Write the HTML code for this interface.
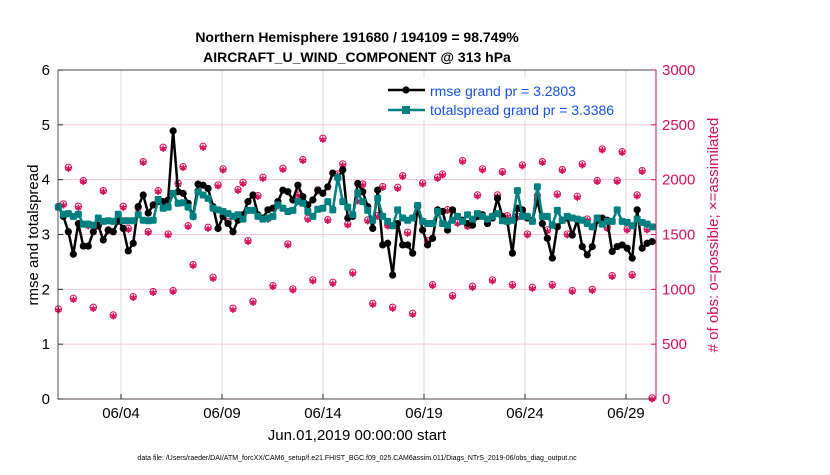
<!DOCTYPE html>
<html><head><meta charset="utf-8"><style>
body{margin:0;background:#fff;font-family:"Liberation Sans",sans-serif;}
svg text{font-family:"Liberation Sans",sans-serif;}
</style></head><body>
<svg id="chart" width="830" height="470" xmlns="http://www.w3.org/2000/svg">
<rect width="830" height="470" fill="#fff"/>
<text x="357" y="42" font-size="14" font-weight="bold" text-anchor="middle">Northern Hemisphere 191680 / 194109 = 98.749%</text>
<text x="357" y="62" font-size="14" font-weight="bold" text-anchor="middle">AIRCRAFT_U_WIND_COMPONENT @ 313 hPa</text>
<g id="grid"></g>
<g id="marks"></g>
<rect x="58" y="70" width="598" height="329" fill="none" stroke="#262626" stroke-width="0.8"/>
<line x1="656" y1="70" x2="656" y2="399" stroke="#d6105a" stroke-width="1"/>
<g id="axes"></g>
<text transform="translate(38,235) rotate(-90)" font-size="15" text-anchor="middle">rmse and totalspread</text>
<text transform="translate(718,235) rotate(-90)" font-size="15" text-anchor="middle" fill="#d6105a"># of obs: o=possible; ×=assimilated</text>
<text x="357" y="440" font-size="15" text-anchor="middle">Jun.01,2019 00:00:00 start</text>
<text x="357" y="460" font-size="7" text-anchor="middle">data file: /Users/raeder/DAI/ATM_forcXX/CAM6_setup/f.e21.FHIST_BGC.f09_025.CAM6assim.011/Diags_NTrS_2019-06/obs_diag_output.nc</text>
<g>
<rect x="384" y="78" width="150" height="42" fill="#fff" stroke="none"/>
<line x1="388" y1="90" x2="425" y2="90" stroke="#000" stroke-width="2.5"/>
<circle cx="406" cy="90" r="3.6" fill="#000"/>
<text x="430" y="96" font-size="14" fill="#1450e6">rmse grand pr = 3.2803</text>
<line x1="388" y1="110" x2="425" y2="110" stroke="#008080" stroke-width="2.5"/>
<rect x="402" y="106" width="8" height="8" fill="#008080"/>
<text x="430" y="115" font-size="14" fill="#1450e6">totalspread grand pr = 3.3386</text>
</g>
</svg>
<script>
const rmse=[3.51,3.33,3.05,2.64,3.20,2.79,2.79,3.05,3.17,2.90,3.08,3.05,3.26,3.11,2.70,2.84,3.51,3.72,3.39,3.54,3.60,3.60,3.63,4.89,3.78,3.75,3.57,3.33,3.92,3.90,3.84,3.51,3.11,3.33,3.20,3.05,3.26,3.36,3.60,3.72,3.36,3.30,
3.45,3.48,3.60,3.81,3.78,3.63,3.90,3.69,3.54,3.63,3.81,3.75,3.87,4.12,4.03,4.18,3.30,3.33,3.93,3.78,3.51,3.11,3.81,2.81,2.84,2.26,3.20,2.81,2.81,2.66,3.51,3.08,2.81,2.93,3.45,3.42,3.08,3.45,3.33,3.26,
3.20,3.17,3.33,3.36,3.20,3.30,3.66,3.33,3.23,2.66,3.48,3.45,3.30,3.26,3.63,3.20,2.93,2.57,3.14,3.26,3.30,2.99,3.26,2.78,2.63,2.78,3.26,3.30,3.26,2.69,2.78,2.81,2.75,2.57,3.45,2.75,2.84,2.87];
const spread=[3.50,3.37,3.38,3.33,3.37,3.19,3.19,3.17,3.30,3.24,3.25,3.24,3.37,3.25,3.25,3.25,3.36,3.26,3.25,3.26,3.64,3.48,3.50,3.75,3.57,3.58,3.50,3.33,3.78,3.72,3.66,3.48,3.45,3.42,3.38,3.33,3.36,3.28,3.44,3.44,3.33,3.28,
3.30,3.33,3.54,3.48,3.42,3.44,3.60,3.57,3.42,3.33,3.46,3.48,3.60,3.45,4.04,3.60,3.50,3.36,3.76,3.60,3.44,3.26,3.66,3.33,3.24,3.16,3.45,3.30,3.26,3.30,3.53,3.24,3.20,3.20,3.42,3.20,3.17,3.26,3.33,3.24,
3.36,3.28,3.38,3.33,3.28,3.33,3.38,3.25,3.24,3.26,3.80,3.33,3.33,3.24,3.87,3.33,3.33,3.17,3.44,3.26,3.33,3.30,3.28,3.26,3.20,3.14,3.30,3.19,3.24,3.24,3.45,3.24,3.22,3.16,3.28,3.22,3.19,3.14];
const nobs=[811,1769,2103,909,1748,1982,1577,827,1571,1890,1532,757,1617,1748,1547,924,1739,2155,1517,970,1890,2286,1495,979,1958,2109,1571,1216,1890,2295,1556,1100,1942,2088,1608,818,1900,1966,1434,881,1845,
2012,1638,1024,1760,2094,1404,994,1860,2173,1638,1076,1897,2368,1626,1055,2042,2134,1587,1146,1805,1951,1623,863,1662,1927,1577,827,1921,2027,1511,772,1754,1961,1434,1033,2012,2042,1717,933,1602,
2164,1571,1018,1851,2088,1632,1076,1851,2064,1662,1033,1656,2124,1495,1009,1845,2155,1532,1033,1860,2082,1495,979,1839,2134,1632,990,1982,2270,1556,1115,1982,2246,1541,1124,1851,2073,1541,0];
const yTicks=[0,1,2,3,4,5,6];
const y2Ticks=[0,500,1000,1500,2000,2500,3000];
const xTickDays=[3,8,13,18,23,28];
const xTickLabels=["06/04","06/09","06/14","06/19","06/24","06/29"];
const T0=-0.1, DT=0.247;
const X=d=>60.4+d*20.2;
const Y=v=>399-v*54.83;
const Y2=n=>399-n*0.10967;
const NS="http://www.w3.org/2000/svg";
function mk(tag,attrs,parent){const e=document.createElementNS(NS,tag);for(const k in attrs)e.setAttribute(k,attrs[k]);parent.appendChild(e);return e;}
const grid=document.getElementById('grid'),marks=document.getElementById('marks'),axes=document.getElementById('axes');
xTickDays.forEach((d,i)=>{
  const g=mk('line',{x1:X(d),x2:X(d),y1:70,y2:399,stroke:'#d9d9d9','stroke-width':1},grid);
  
  
  mk('line',{x1:X(d),x2:X(d),y1:399,y2:394,stroke:'#262626'},axes);
  const t=mk('text',{x:X(d),y:418,'font-size':15,'text-anchor':'middle'},axes);t.textContent=xTickLabels[i];
  
  
});
yTicks.forEach(v=>{
  const g=mk('line',{x1:58,x2:656,y1:Y(v),y2:Y(v),stroke:'#f4c6d8','stroke-width':1},grid);
  
  
  mk('line',{x1:58,x2:63,y1:Y(v),y2:Y(v),stroke:'#262626'},axes);
  const t=mk('text',{x:50,y:Y(v)+5,'font-size':15,'text-anchor':'end'},axes);t.textContent=v;
  
  
});
y2Ticks.forEach(n=>{
  mk('line',{x1:651,x2:656,y1:Y2(n),y2:Y2(n),stroke:'#d6105a'},axes);
  const t=mk('text',{x:662,y:Y2(n)+5,'font-size':15,fill:'#d6105a'},axes);t.textContent=n;
  
  
});
nobs.forEach((n,i)=>{
  const x=X(T0+i*DT),y=Y2(n);
  const c=mk('circle',{cx:x,cy:y-1,r:3.2,fill:'none',stroke:'#d6105a','stroke-width':1},marks);
  
  
  const s=mk('text',{x:x,y:y+3.5,'font-size':9,'text-anchor':'middle',fill:'#d6105a'},marks);s.textContent='✱';
  
  
});
const rp=rmse.slice(0,120).map((v,i)=>X(T0+i*DT).toFixed(1)+','+Y(v).toFixed(1)).join(' ');
const rl=mk('polyline',{points:rp,fill:'none',stroke:'#000','stroke-width':2.5},marks);


rmse.slice(0,120).forEach((v,i)=>{
  const m=mk('circle',{cx:X(T0+i*DT),cy:Y(v),r:3.6,fill:'#000'},marks);
  
  
});
const sp=spread.slice(0,120).map((v,i)=>X(T0+i*DT).toFixed(1)+','+Y(v).toFixed(1)).join(' ');
const sl=mk('polyline',{points:sp,fill:'none',stroke:'#008080','stroke-width':2.5},marks);


spread.slice(0,120).forEach((v,i)=>{
  const m=mk('rect',{x:X(T0+i*DT)-3.5,y:Y(v)-3.5,width:7,height:7,rx:1.5,fill:'#008080'},marks);
  
  
});
</script>
</body></html>
